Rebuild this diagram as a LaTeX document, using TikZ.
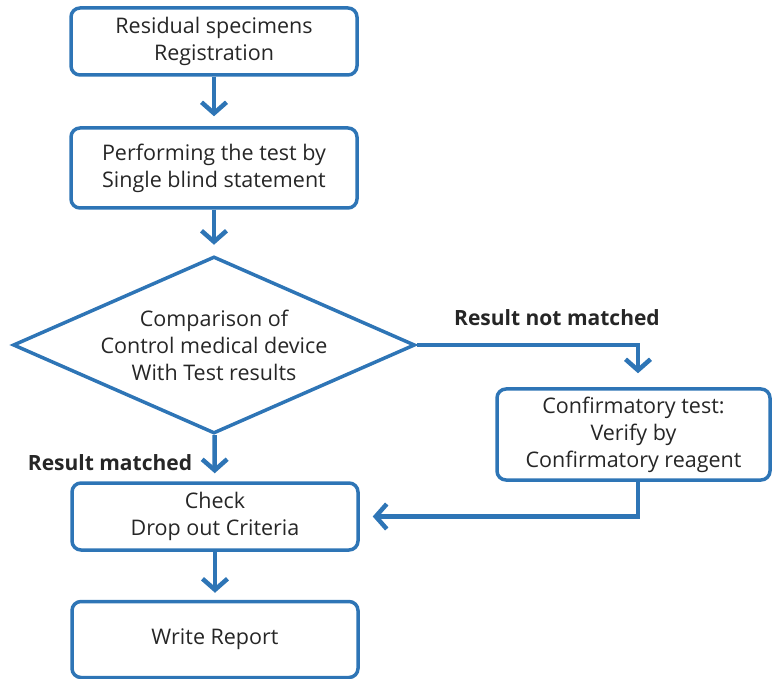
\documentclass[tikz,border=0pt]{standalone}
\usepackage{fontspec}
\setmainfont{Open Sans}
\usetikzlibrary{shapes.geometric,arrows.meta}
\definecolor{flowblue}{RGB}{46,117,182}

\begin{document}
\begin{tikzpicture}[x=1pt,y=-1pt]
\tikzstyle{every node} = [font=\fontsize{21.5}{27}\selectfont, text=black!85, align=center]
\tikzstyle{step box} = [draw=flowblue, line width=3.5, rounded corners=9, rectangle, minimum width=286, minimum height=67, inner sep=0]
\tikzstyle{decision} = [draw=flowblue, line width=3.5, diamond, aspect=2.27, minimum width=402, minimum height=177, inner sep=0]
\tikzstyle{flow} = [draw=flowblue, line width=4.5, -{Straight Barb[length=11pt,width=25pt]}]
\tikzstyle{tag} = [font=\fontsize{21}{24}\bfseries\selectfont]
\useasboundingbox (0,0) rectangle (772,679);
\node[step box] (reg) at (214,41.5) {Residual specimens\\Registration};
\node[step box, minimum height=80] (perf) at (214,168) {Performing the test by\\Single blind statement};
\node[decision] (cmp) at (214,345) {Comparison of\\Control medical device\\With Test results};
\node[step box, minimum width=273, minimum height=91] (conf) at (633.5,434.5) {Confirmatory test:\\Verify by\\Confirmatory reagent};
\node[step box] (chk) at (215,516.5) {Check\\Drop out Criteria};
\node[step box, minimum height=76] (rep) at (215,639.5) {Write Report};
\node[tag] (nomatch) at (557,318) {Result not matched};
\node[tag] (match) at (110,463) {Result matched};
\draw[flow, shorten >=10] (reg) -- (perf);
\draw[flow, shorten >=10] (perf) -- (cmp);
\draw[flow, shorten >=8] (cmp) -- (chk);
\draw[flow, shorten >=7] (chk) -- (rep);
\draw[flow, shorten >=14] (cmp.east) -| ([xshift=4.5]conf.north);
\draw[flow, shorten >=13] ([xshift=4.5]conf.south) |- (chk.east);
\end{tikzpicture}
\end{document}
